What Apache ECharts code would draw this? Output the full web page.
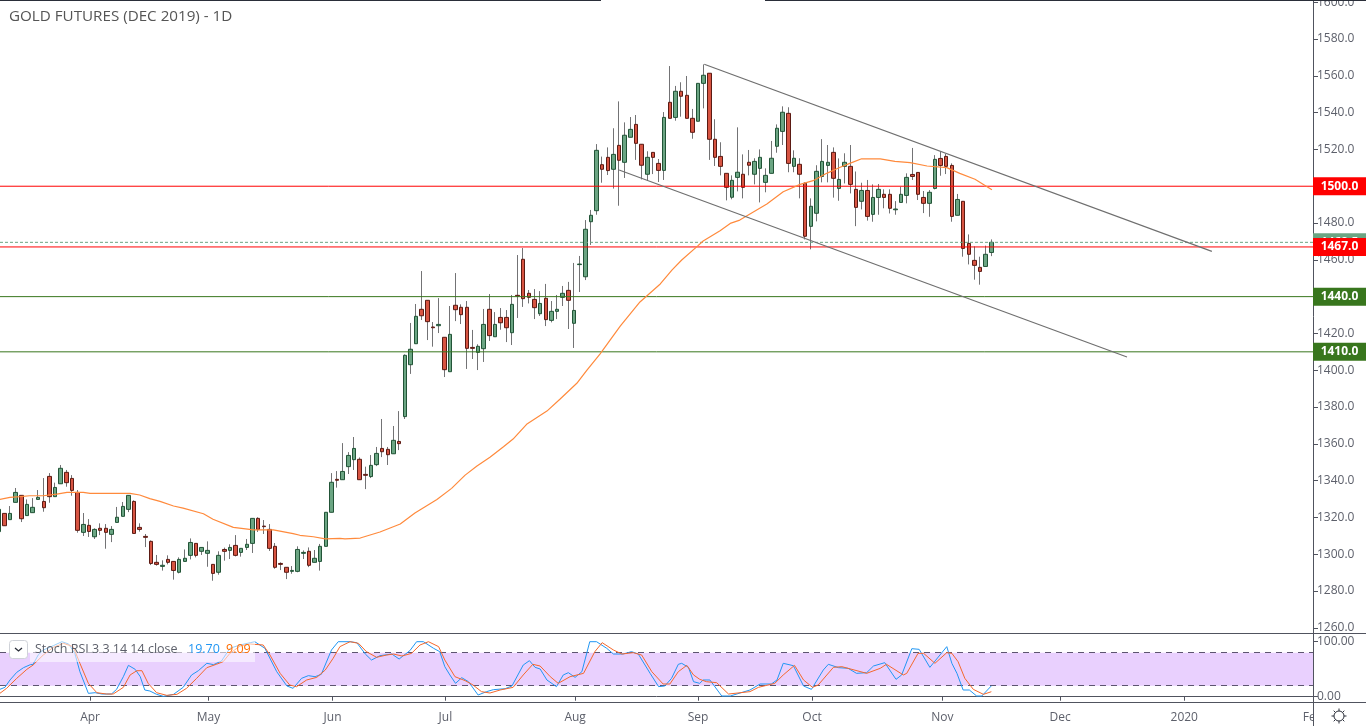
<!DOCTYPE html>
<html><head><meta charset="utf-8">
<style>html,body{margin:0;padding:0;background:#fff}#c{width:1366px;height:726px}</style>
<script src="https://cdn.jsdelivr.net/npm/echarts@6/dist/echarts.min.js"></script>
</head><body><div id="c"></div>
<script>
const opens=[1312.3,1322.2,1318.8,1328.2,1332.0,1321.0,1322.6,1329.8,1328.7,1342.3,
1331.3,1338.3,1344.5,1341.2,1333.6,1311.9,1315.7,1309.5,1314.1,1314.1,
1310.8,1317.3,1320.6,1324.4,1328.7,1314.6,1309.7,1307.0,1295.6,1293.4,
1297.2,1296.1,1290.2,1296.1,1299.4,1305.9,1301.6,1300.5,1294.5,1290.2,
1302.6,1302.1,1304.8,1301.0,1303.7,1305.9,1319.5,1315.3,1313.5,1304.3,
1295.0,1292.9,1290.7,1290.7,1300.5,1301.6,1295.6,1296.1,1304.3,1322.8,
1340.7,1340.5,1347.6,1351.4,1351.6,1343.4,1342.2,1348.7,1357.5,1357.0,
1354.6,1361.3,1374.8,1403.0,1414.4,1433.1,1438.0,1423.5,1424.2,1417.9,
1399.2,1435.3,1434.2,1434.2,1412.4,1409.7,1411.7,1433.1,1418.2,1428.7,
1428.7,1420.4,1440.7,1460.3,1441.8,1438.5,1430.7,1439.1,1427.1,1432.0,
1439.6,1443.4,1425.5,1457.4,1450.8,1480.7,1486.7,1511.7,1515.7,1509.2,
1522.2,1513.0,1526.6,1533.6,1522.8,1506.5,1518.4,1512.4,1508.6,1545.6,
1537.4,1551.6,1549.4,1536.9,1535.3,1555.9,1561.4,1525.5,1516.2,1507.0,
1494.0,1504.8,1506.5,1513.0,1506.5,1509.7,1502.1,1507.0,1521.7,1529.8,
1539.6,1510.8,1511.9,1501.6,1478.2,1485.3,1505.3,1511.3,1518.4,1498.8,
1510.8,1510.8,1498.3,1491.8,1497.7,1484.7,1493.9,1495.6,1495.6,1487.2,
1491.2,1495.0,1506.4,1507.5,1493.9,1490.7,1498.8,1515.1,1516.2,1511.3,
1484.2,1491.8,1468.9,1459.7,1455.9,1456.4,1464.0];
const closes=[1324.4,1315.5,1322.2,1333.6,1319.3,1327.1,1325.5,1330.9,1325.3,1331.3,
1336.3,1346.7,1338.9,1334.7,1313.0,1316.2,1312.4,1313.5,1313.0,1311.9,
1313.5,1320.1,1326.0,1332.0,1311.3,1313.5,1309.2,1295.0,1294.5,1294.0,
1295.6,1291.2,1297.2,1297.8,1306.4,1299.4,1303.7,1302.1,1289.6,1299.4,
1301.6,1303.7,1299.4,1303.2,1305.4,1319.5,1313.5,1315.0,1303.2,1292.9,
1294.5,1290.2,1291.2,1302.6,1301.0,1294.0,1297.8,1304.3,1322.8,1339.1,
1340.2,1345.0,1353.7,1357.5,1340.5,1342.9,1348.3,1354.8,1355.7,1354.1,
1361.9,1360.1,1408.1,1411.4,1429.3,1429.6,1426.4,1423.1,1424.9,1400.3,
1419.5,1432.9,1430.2,1411.9,1411.9,1413.0,1424.9,1418.8,1424.9,1425.8,
1423.1,1435.8,1440.3,1438.9,1439.6,1434.0,1436.3,1427.5,1432.0,1433.1,
1441.8,1438.0,1432.5,1457.7,1476.6,1484.2,1519.5,1509.2,1508.5,1517.3,
1514.1,1527.7,1530.9,1523.3,1511.4,1515.7,1515.7,1508.6,1537.4,1536.9,
1551.6,1548.9,1536.9,1529.3,1555.9,1560.3,1525.5,1515.7,1510.8,1499.4,
1503.2,1507.6,1499.4,1511.4,1513.5,1515.7,1505.9,1515.2,1531.5,1540.2,
1512.4,1515.2,1506.5,1472.8,1489.1,1508.1,1513.5,1513.0,1504.3,1503.7,
1513.0,1501.0,1488.5,1497.7,1483.6,1493.9,1498.3,1493.9,1488.0,1487.6,
1495.6,1504.8,1505.3,1495.6,1490.7,1496.7,1514.6,1511.3,1510.8,1483.6,
1492.8,1466.2,1463.0,1457.0,1453.7,1463.0,1469.5];
const lows=[1311,1315.5,1318.8,1328.2,1317.5,1321.0,1322.6,1329.8,1323.1,1328.0,
1331.3,1338.3,1336.7,1331.8,1311.7,1309.9,1309.4,1308.3,1310.4,1303.0,
1306.6,1317.3,1320.6,1322.9,1311.2,1312.3,1303.9,1294.1,1293.8,1291.1,
1294.5,1286.2,1289.6,1296.1,1297.2,1298.3,1299.6,1293.2,1285.6,1288.9,
1296.5,1297.4,1298.8,1298.7,1302.3,1300.7,1312.1,1311.0,1301.8,1292.1,
1291.4,1286.5,1289.4,1290.2,1297.4,1293.0,1295.6,1291.1,1304.3,1322.8,
1336.2,1340.5,1343.6,1345.8,1340.5,1335.4,1341.4,1347.9,1352.8,1348.5,
1354.6,1356.6,1373.5,1398.0,1414.4,1427.3,1416.4,1412.8,1420.2,1396.3,
1399.2,1426.7,1425.1,1400.7,1406.1,1400.1,1404.5,1415.9,1418.2,1422.0,
1415.3,1413.7,1428.4,1434.4,1436.3,1427.8,1429.5,1424.0,1426.0,1427.8,
1434.9,1422.4,1412.1,1442.5,1449.0,1468.1,1484.5,1501.9,1506.1,1498.7,
1489.4,1504.5,1526.6,1514.3,1503.7,1503.0,1506.6,1502.3,1503.4,1536.9,
1535.6,1537.8,1536.9,1525.8,1535.3,1542.3,1514.3,1511.0,1505.9,1492.3,
1492.9,1497.2,1493.4,1505.9,1501.0,1491.2,1496.7,1507.0,1518.2,1522.4,
1507.6,1507.6,1493.4,1471.1,1465.7,1480.9,1502.1,1502.1,1493.8,1492.1,
1501.5,1496.1,1478.3,1487.4,1481.3,1480.7,1484.5,1488.0,1485.2,1484.5,
1491.2,1490.7,1503.4,1492.5,1485.4,1483.4,1498.3,1505.7,1506.6,1480.7,
1484.2,1461.7,1457.5,1449.2,1446.5,1456.4,1462.0];
const highs=[1325,1322.2,1326.2,1336.0,1332.0,1329.8,1330.5,1334.9,1341.4,1344.1,
1338.9,1348.5,1345.8,1343.0,1334.9,1322.4,1319.1,1314.1,1316.8,1316.4,
1315.3,1325.7,1328.4,1332.0,1329.3,1316.8,1311.0,1307.5,1299.6,1296.7,
1299.4,1296.1,1298.3,1302.6,1308.6,1305.9,1303.7,1307.0,1294.5,1301.6,
1303.6,1305.4,1310.4,1303.2,1308.3,1319.5,1320.1,1318.6,1316.4,1306.1,
1295.6,1292.9,1293.6,1304.3,1302.1,1303.7,1302.3,1305.6,1322.8,1344.1,
1345.2,1360.4,1355.5,1363.7,1352.6,1347.6,1353.9,1358.3,1373.5,1358.3,
1369.7,1377.8,1408.6,1425.7,1436.0,1453.9,1438.0,1426.2,1439.2,1417.9,
1434.9,1452.8,1435.8,1437.6,1421.9,1414.1,1433.3,1441.4,1431.6,1433.8,
1432.7,1440.9,1462.6,1466.4,1443.6,1444.1,1443.0,1446.9,1437.6,1440.9,
1445.8,1448.0,1458.3,1462.1,1481.6,1487.1,1522.9,1516.1,1521.1,1531.5,
1546.1,1534.7,1537.6,1538.7,1522.8,1519.0,1518.4,1514.8,1540.3,1565.3,
1554.5,1556.5,1559.9,1542.0,1555.9,1566.2,1561.4,1536.4,1523.9,1507.0,
1505.9,1532.0,1517.3,1519.7,1515.2,1520.0,1509.7,1524.6,1533.6,1543.4,
1542.9,1519.5,1515.2,1502.1,1493.4,1511.4,1525.6,1522.4,1521.1,1515.1,
1517.9,1522.4,1508.0,1501.9,1503.4,1501.0,1501.2,1498.3,1498.3,1491.9,
1499.7,1507.0,1520.8,1507.5,1497.4,1497.9,1516.9,1518.8,1517.5,1512.4,
1495.8,1491.8,1473.8,1467.3,1461.7,1467.7,1471.1];

const maBars=[0.2,2,3.8,5.5,7.9,10.3,12.1,15,16.2,19.7,23.3,25,26.8,28.6,31,32.7,36.3,38,41.6,45.2,48.7,52.2,53.4,55.8,57.9,60.5,
61.4,64.1,67.6,71.2,73.8,77.7,80.3,82.7,84.8,87.1,89.5,91.2,93.6,97.2,99.5,102.5,104.3,106.6,108.4,110.2,113.7,117.3,119.4,121.1,124,124.9,127.9,129.7,131.4,133.8,136.2,139.1,142.1,144.4,146.8,149.2,150.9,153,156.3,158.9,161.6,164.6,168.1,170.4,173.1,176.1];
const maValues=[1329.8,1330.9,1331.3,1331.8,1331.8,1332.7,1333.6,1333.6,1333.1,1333.1,1333.1,1332.2,1330.2,1328.7,1326.2,1325.1,1322.0,1319,1314.6,1313.2,1313.2,1311.2,1310.3,1309.5,1308.4,1308.6,
1308.3,1308.8,1312.1,1316.4,1322.4,1329.8,1335.8,1343,1347.9,1352.7,1358.4,1362.6,1370.6,1377.8,1384.2,1392.9,1400.1,1408.8,1416.4,1424,1437.1,1446.9,1454.5,1459.9,1467.7,1470.2,1475.8,1479.8,1481.6,1486,1490.3,1497,1501,1503,1507,1510.3,1512.4,1514.9,1514.9,1513.5,1512.8,1511,1510.1,1507,1503.8,1498.1];

const kBars=[0.2,1.1,2,3.2,4.4,5.6,6.1,7,7.9,9.7,11.2,12.4,13.5,14.4,15.9,17.1,18.3,20,20.9,22.1,23,24.2,25.1,25.9,26.8,28,29.2,31,32.7,34.2,35.4,36.9,38.1,39.5,41,42.8,44.6,45.4,47.2,49.3,51.1,52.2,53.7,54.9,56.1,57.2,59,60.2,
62.3,63.5,65,66.1,67.6,69.7,71,72.9,74.1,75.3,77.1,78.2,79.1,80,81,82.1,83.3,85,86.5,87.7,89.8,91,93,94.1,95.1,96,97.2,98.9,100.1,101,102.2,103.4,104.8,106,107.8,109,110.7,112.2,113.4,115.5,117,118.1,119.3,120.5,121.1,122.3,123.2,
124.3,124.9,126.1,128.2,129.7,133.2,135,137,138,139.1,140.9,142.7,144.1,146.2,147.1,148.9,150.6,152.1,153.9,155.1,157.1,159.1,160.1,161.9,163.2,165.1,168.1,169,169.9,171,172.1,173.4,174.3,176];
const kValues=[13.4,17,30.4,44.3,52.8,58.2,58.8,75.8,84.9,92.8,100,95.8,78.8,45.5,6.1,7.3,4.9,4.9,13.4,36.4,57,49.8,36.4,12.2,10.4,4.3,0.7,4.3,17,39.5,47.3,60.7,58.3,64.9,88,94,98.2,100,88,45.5,19.5,15.2,33.4,38.3,36.4,40.7,84.9,100,
100,98.2,77.6,66.7,74.6,77.6,68.5,83.7,100,100,88,81.9,54.6,39.5,24.3,34.6,27.3,3.1,9.2,12.8,14.6,19.5,57.6,65.5,53.4,50.4,30.4,18.3,39.5,43.7,35.2,45.5,100,100,88,77.6,77.6,81.9,77.6,42.5,18.3,19.5,33.4,58.9,60.7,53.4,27.3,
24.3,30.4,30.4,1.3,1.3,12.2,23.1,23.1,30.4,60.7,56.4,19.5,13.4,48.5,58.9,52.8,51.6,42.5,43.7,55.8,61.9,31.6,39.5,87.3,86.1,53.4,91,60.7,42.5,12.2,12.2,1.3,1.3,19.7];
const dBars=[0.2,1.4,3.2,5,6.1,7.9,9.7,11.5,13.2,14.4,15.9,17.4,19.1,20.3,22.1,23.3,24.5,25.4,26.5,28,29.8,31.6,33.3,35.1,36.9,38.6,39.8,41,42.8,44.6,46.9,48.1,49.9,51.6,52.8,54.6,56.4,57.9,59.3,60.5,
62.3,63.8,65.2,67,68.8,70,71.5,73.2,74.7,76.2,78,79.1,80.9,82.7,84.1,85.6,87.1,88.9,91.2,93,94.7,96,97.8,99.2,101.3,103.7,105.7,107,109,110.5,112.5,114,115.8,117.8,119,120.5,122,123.2,
124.3,125.5,127.3,129.4,133.2,134.7,137.6,139.1,141.1,142.7,144.3,145.3,148,149.5,153.9,156.3,157.4,160.4,161,163,164,166,168.1,169,170.1,171.3,172.8,174.6,176];
const dValues=[6.1,15.2,33.4,49.8,57.6,75.8,89.8,97,91,60.7,24.3,7.3,4.9,4.9,17,39.5,47.3,47.3,24.3,7.3,2.5,4.3,15.2,33.4,52.8,58.9,63.7,78.8,92.2,95.8,94,75.8,42.5,21.3,18.2,30.4,35.2,48.5,69.8,91,
100,97,81.9,71.6,75.8,77.6,74,78.8,94,100,91,66.7,36.4,29.2,21.3,9.2,6.7,12.2,17,39.5,58.9,55.8,36.4,24.3,36.4,42.5,81.9,98.2,84.9,77.6,80.1,75.8,45.5,23.1,23.1,45.5,57,39.5,
31.6,27.3,25.5,4.9,9.2,17,24.3,39.5,57,30.4,17,21.3,53.4,54.6,42.5,51.6,58.9,39.5,42.5,78.8,78.8,60.7,80.1,78.8,63.7,33.4,13.4,4.3,9.09];

const channelUpper=[[125.1,1566.3],[215.1,1464.6]];
const channelLower=[[110.0,1508.8],[200.05,1407.2]];
const priceTicks=[1260,1280,1300,1320,1340,1360,1380,1400,1420,1440,1460,1480,1500,1520,1540,1560,1580,1600];
const stochTicks=[0,100];
const monthBars=[16.2,37.2,59.2,79.2,102.2,124,144.2,167.3,188.2,210.2,233];
const monthLabels=['Apr','May','Jun','Jul','Aug','Sep','Oct','Nov','Dec','2020','Feb'];
const levelValues=[1469.5,1500,1467,1440,1410];
const levelColors=['#6ba583','#ff0000','#ff0000','#38761d','#38761d'];

const FONT='"Open Sans", "DejaVu Sans", sans-serif';
const AXIS='#50535e', TXT='#5d606b';
const barsMin=0.232, barsMax=233.03;

const wickData=opens.map((o,i)=>[i,o,closes[i],lows[i],highs[i]]);
const bodyData=opens.map((o,i)=>[i,o,closes[i],Math.min(o,closes[i]),Math.max(o,closes[i])]);
const zip=(a,b)=>a.map((x,i)=>[x,b[i]]);

const levelSeries=levelValues.map((v,i)=>({
  type:'line',name:'Level '+v,xAxisIndex:0,yAxisIndex:0,symbol:'none',silent:true,clip:false,
  z:i===0?3.5:4,zlevel:0,
  data:[[barsMin,v],[barsMax,v]],
  lineStyle:i===0?{color:levelColors[i],type:[3,2],width:1}:{color:levelColors[i],width:1},
  endLabel:{show:true,distance:0,formatter:'{a|'+v.toFixed(1)+'}',align:'left',verticalAlign:'middle',
    rich:{a:{backgroundColor:levelColors[i],color:'#fff',fontFamily:FONT,fontSize:12,fontWeight:'bold',width:53,height:18,lineHeight:18,align:'center',verticalAlign:'middle'}}}
}));

const gear=[];
for(let k=0;k<8;k++){const a=k*Math.PI/4;
  gear.push({type:'line',z:103,silent:true,shape:{x1:1339+5*Math.cos(a),y1:716+5*Math.sin(a),x2:1339+7.5*Math.cos(a),y2:716+7.5*Math.sin(a)},style:{stroke:'#2a2e39',lineWidth:1}});}

const option={
  animation:false,
  backgroundColor:'#fff',
  textStyle:{fontFamily:FONT},
  grid:[
    {left:0,width:1313,top:0,height:633,outerBoundsMode:'none'},
    {left:0,width:1313,top:633,height:69,outerBoundsMode:'none'}
  ],
  xAxis:[
    {type:'value',gridIndex:0,min:barsMin,max:barsMax,show:false,splitLine:{show:false}},
    {type:'value',gridIndex:1,min:barsMin,max:barsMax,splitLine:{show:false},
      axisLine:{show:true,lineStyle:{color:AXIS}},
      axisTick:{show:true,length:4,customValues:monthBars,lineStyle:{color:AXIS}},
      axisLabel:{customValues:monthBars,color:TXT,fontSize:12,margin:10,fontFamily:FONT,hideOverlap:false,
        formatter:v=>monthLabels[monthBars.indexOf(v)]||''}}
  ],
  yAxis:[
    {type:'value',gridIndex:0,position:'right',min:1257.2,max:1601.2,scale:true,splitLine:{show:false},
      axisLine:{show:true,onZero:false,lineStyle:{color:AXIS}},
      axisTick:{show:true,length:5,customValues:priceTicks,lineStyle:{color:AXIS}},
      axisLabel:{customValues:priceTicks,color:TXT,fontSize:12,margin:4,padding:[3,0,0,0],fontFamily:FONT,formatter:v=>v.toFixed(1)}},
    {type:'value',gridIndex:1,position:'right',min:-9.6,max:115.8,scale:true,splitLine:{show:false},
      axisLine:{show:true,onZero:false,lineStyle:{color:AXIS}},
      axisTick:{show:true,length:5,customValues:stochTicks,lineStyle:{color:AXIS}},
      axisLabel:{customValues:stochTicks,color:TXT,fontSize:12,margin:4,padding:[3,0,0,0],fontFamily:FONT,formatter:v=>v.toFixed(2)}}
  ],
  series:[
    {type:'candlestick',name:'wick',xAxisIndex:0,yAxisIndex:0,data:wickData,encode:{x:0,y:[1,2,3,4]},barWidth:0.5,silent:true,z:2,
      itemStyle:{color:'#737375',color0:'#737375',borderColor:'#737375',borderColor0:'#737375',borderWidth:1}},
    {type:'candlestick',name:'body',xAxisIndex:0,yAxisIndex:0,data:bodyData,encode:{x:0,y:[1,2,3,4]},barWidth:4,silent:true,z:3,
      itemStyle:{color:'#6ba583',color0:'#d75442',borderColor:'#225437',borderColor0:'#5b1a13',borderWidth:1}},
    ...levelSeries,
    {type:'line',name:'MA',xAxisIndex:0,yAxisIndex:0,data:zip(maBars,maValues),symbol:'none',silent:true,z:5,lineStyle:{color:'#ff8a3c',width:1.2}},
    {type:'line',name:'Channel upper',xAxisIndex:0,yAxisIndex:0,data:channelUpper,symbol:'none',silent:true,z:5,lineStyle:{color:'#6f6f6f',width:1.2}},
    {type:'line',name:'Channel lower',xAxisIndex:0,yAxisIndex:0,data:channelLower,symbol:'none',silent:true,z:5,lineStyle:{color:'#6f6f6f',width:1.2}},
    {type:'line',name:'%K',xAxisIndex:1,yAxisIndex:1,data:zip(kBars,kValues),symbol:'none',silent:true,z:5,lineStyle:{color:'#2196f3',width:1},
      markArea:{silent:true,itemStyle:{color:'#e9d0fe'},data:[[{yAxis:20},{yAxis:80}]]},
      markLine:{silent:true,symbol:'none',animation:false,label:{show:false},lineStyle:{color:'#5d5570',type:[6,5],width:1},data:[{yAxis:80},{yAxis:20}]}},
    {type:'line',name:'%D',xAxisIndex:1,yAxisIndex:1,data:zip(dBars,dValues),symbol:'none',silent:true,z:6,lineStyle:{color:'#f4682c',width:1}}
  ],
  graphic:[
    {type:'rect',z:100,silent:true,shape:{x:0,y:0,width:601,height:1},style:{fill:'#2a2e39'}},
    {type:'rect',z:100,silent:true,shape:{x:765,y:0,width:601,height:1},style:{fill:'#2a2e39'}},
    {type:'rect',z:100,silent:true,shape:{x:0,y:633,width:1366,height:1},style:{fill:AXIS}},
    {type:'rect',z:100,silent:true,shape:{x:0,y:702,width:1366,height:1},style:{fill:AXIS}},
    {type:'rect',z:99,silent:true,shape:{x:1314,y:703,width:52,height:23},style:{fill:'#fff'}},
    {type:'rect',z:100,silent:true,shape:{x:1313,y:702,width:1,height:24},style:{fill:AXIS}},
    {type:'text',z:100,silent:true,style:{x:9,y:9,text:'GOLD FUTURES (DEC 2019) - 1D',font:'15.2px '+FONT,fill:'#555',textVerticalAlign:'top'}},
    {type:'rect',z:100,silent:true,shape:{x:30,y:640,width:225,height:22},style:{fill:'rgba(255,255,255,0.55)'}},
    {type:'rect',z:101,silent:true,shape:{x:9.5,y:640.5,width:18,height:18,r:3},style:{fill:'#fff',stroke:'#cfd2d8',lineWidth:1}},
    {type:'polyline',z:102,silent:true,shape:{points:[[15,648],[18.5,651],[22,648]]},style:{stroke:'#2a2e39',lineWidth:1.3,fill:'none'}},
    {type:'text',z:102,silent:true,style:{x:35,y:649.5,text:'Stoch RSI 3 3 14 14 close',font:'12.5px '+FONT,fill:'#5d606b',textVerticalAlign:'middle'}},
    {type:'text',z:102,silent:true,style:{x:188,y:649.5,text:'19.70',font:'12.5px '+FONT,fill:'#2196f3',textVerticalAlign:'middle'}},
    {type:'text',z:102,silent:true,style:{x:226,y:649.5,text:'9.09',font:'12.5px '+FONT,fill:'#ff6d00',textVerticalAlign:'middle'}},
    {type:'circle',z:103,silent:true,shape:{cx:1339,cy:716,r:5},style:{fill:'#fff',stroke:'#2a2e39',lineWidth:1}},
    ...gear
  ]
};
const chart=echarts.init(document.getElementById('c'),null,{renderer:'canvas',width:1366,height:726});
chart.setOption(option);
</script></body></html>
